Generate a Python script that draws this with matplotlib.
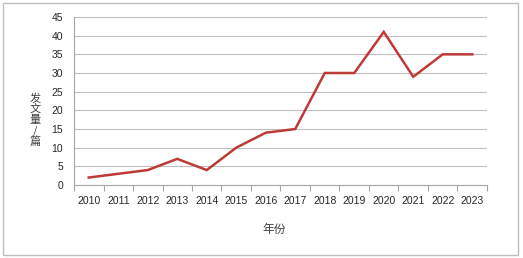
import matplotlib
matplotlib.use("Agg")
import matplotlib.pyplot as plt
from matplotlib.patches import Rectangle
import numpy as np

years = ["2010", "2011", "2012", "2013", "2014", "2015", "2016",
         "2017", "2018", "2019", "2020", "2021", "2022", "2023"]
counts = [2, 3, 4, 7, 4, 10, 14, 15, 30, 30, 41, 29, 35, 35]
yticks = [0, 5, 10, 15, 20, 25, 30, 35, 40, 45]

W, H = 523, 258
fig = plt.figure(figsize=(W / 100, H / 100), dpi=100)
fig.patches.append(Rectangle((3 / W, 3 / H), 515 / W, 252 / H, transform=fig.transFigure,
                             fill=False, edgecolor="#BFBFBF", linewidth=1.0))

ax = fig.add_axes([74 / W, (H - 185) / H, (487 - 74) / W, (185 - 17) / H])
x = np.arange(len(years))
ax.plot(x, counts, color="#BE3A37", linewidth=1.8, solid_joinstyle="miter")

ax.set_xlim(-0.5, len(years) - 0.5)
ax.set_ylim(0, 45)
ax.set_yticks(yticks)
ax.set_xticks(x)
ax.set_xticklabels(years)
ax.set_xticks(np.arange(-0.5, len(years), 1.0), minor=True)
ax.tick_params(axis="x", which="major", length=0, pad=8, labelsize=7.5, colors="#262626")
ax.tick_params(axis="x", which="minor", length=4, color="#A6A6A6", width=0.8)
ax.tick_params(axis="y", length=0, pad=8, labelsize=7.5, colors="#262626")
for lab in ax.get_xticklabels() + ax.get_yticklabels():
    lab.set_fontfamily(["Liberation Sans", "DejaVu Sans"])

ax.grid(axis="y", color="#BFBFBF", linewidth=0.8)
ax.set_axisbelow(True)
for s in ["top", "right"]:
    ax.spines[s].set_visible(False)
for s in ["left", "bottom"]:
    ax.spines[s].set_color("#A6A6A6")
    ax.spines[s].set_linewidth(0.8)

cjk = ["Noto Sans CJK SC", "DejaVu Sans"]
fig.text(35 / W, 1 - 120 / H, "发\n文\n量\n/\n篇", family=cjk, fontsize=8, color="#404040",
         ha="center", va="center", linespacing=1.05)
fig.text(274 / W, 1 - 229 / H, "年份", family=cjk, fontsize=8.5, color="#404040",
         ha="center", va="center")

fig.savefig("out.png", dpi=100)
